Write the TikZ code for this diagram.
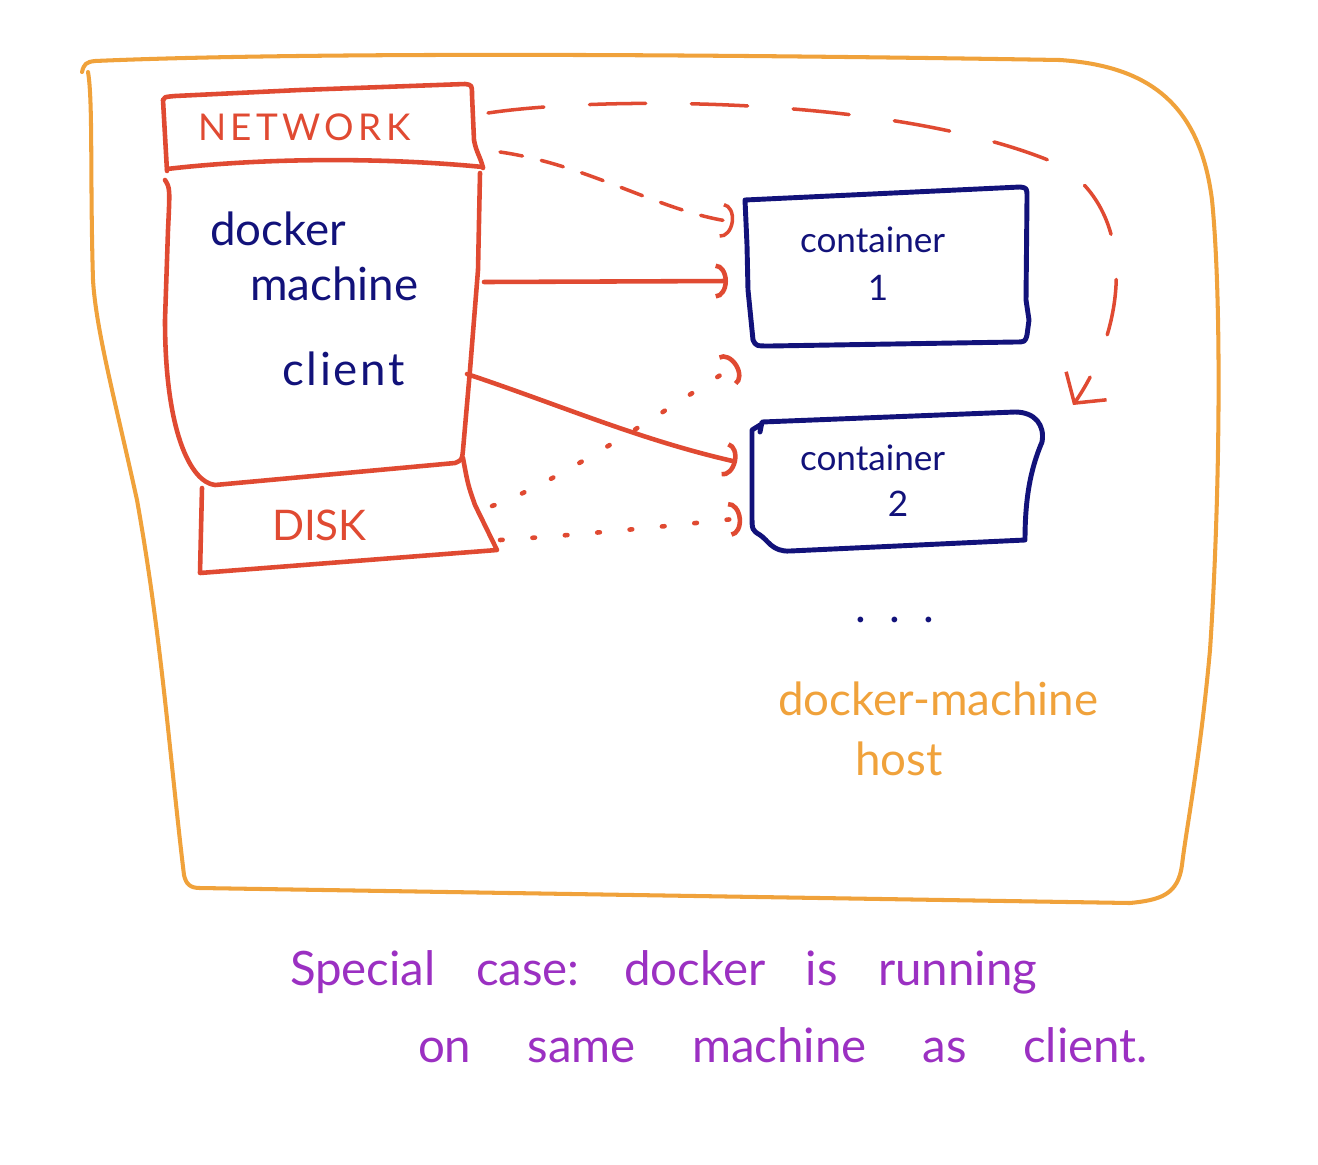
\documentclass[tikz,border=0pt]{standalone}
\usepackage{fontspec}
\setmainfont{Lato}
\usetikzlibrary{arrows.meta}
\definecolor{hostc}{HTML}{F0A23B}
\definecolor{redc}{HTML}{E04A32}
\definecolor{navyc}{HTML}{12127A}
\definecolor{purc}{HTML}{9B30C2}
\begin{document}
\begin{tikzpicture}[x=0.02cm,y=-0.02cm,
  hostline/.style={draw=hostc, line width=2.3pt, line cap=round, line join=round},
  redline/.style={draw=redc, line width=2.6pt, line cap=round, line join=round},
  navyline/.style={draw=navyc, line width=2.8pt, line cap=round, line join=round},
  arctip/.style={-{Arc Barb[length=7pt,width=20pt]}},
  vtip/.style={-{Straight Barb[length=12pt,width=28pt]}},
  longdash/.style={redline, line width=2pt, dash pattern=on 32pt off 26pt},
  shortdash/.style={redline, line width=2pt, dash pattern=on 13pt off 11pt},
  dotline/.style={redline, line width=2.6pt, dash pattern=on 1.5pt off 17pt},
  redtxt/.style={text=redc, font=\fontsize{21}{24}\selectfont},
  navytxt/.style={text=navyc, font=\fontsize{26}{29}\selectfont},
  conttxt/.style={text=navyc, font=\fontsize{20}{23}\selectfont},
  hosttxt/.style={text=hostc, font=\fontsize{26}{29}\selectfont},
  purtxt/.style={text=purc, font=\fontsize{27}{30}\selectfont},
  every node/.style={inner sep=0pt, outer sep=0pt}]
\path[use as bounding box] (0,0) rectangle (1318,1164);

% docker-machine host outline
\draw[hostline] (82,72) .. controls (84,64) and (86,62) .. (95,61)
  .. controls (300,52) and (700,54) .. (1060,60)
  .. controls (1150,66) and (1200,105) .. (1212,200)
  .. controls (1222,300) and (1220,500) .. (1210,650)
  .. controls (1200,760) and (1186,830) .. (1182,865)
  .. controls (1178,895) and (1160,900) .. (1130,903)
  -- (200,888)
  .. controls (190,888) and (186,884) .. (184,875)
  .. controls (170,760) and (162,640) .. (137,500)
  .. controls (115,400) and (96,330) .. (93,280)
  .. controls (90,180) and (93,100) .. (88,72);

% client machine: NETWORK box
\draw[redline] (163,100) .. controls (164,97) .. (175,96) -- (300,90) -- (465,84)
  .. controls (472,85) .. (472,95) -- (474,140)
  .. controls (476,152) and (481,158) .. (483,168);
\draw[redline] (167,169) .. controls (260,158) and (380,157) .. (483,167);
\draw[redline] (163,100) -- (167,171);
% body
\draw[redline] (165,180) .. controls (170,188) .. (168,230) -- (165,320)
  .. controls (165,430) and (190,482) .. (215,485) -- (455,463)
  .. controls (462,460) .. (463,450) -- (470,370) -- (478,270) -- (480,173);
% DISK box
\draw[redline] (202,488) -- (200,573) -- (497,550) -- (475,505)
  .. controls (468,485) .. (463,458);

% containers
\draw[navyline] (745,200) -- (1020,187) .. controls (1027,188) .. (1027,198)
  -- (1026,300) -- (1029,320) -- (1027,335) .. controls (1025,342) .. (1015,342)
  -- (770,346) .. controls (756,346) .. (753,340) -- (748,290) -- (747,245) -- cycle;
\draw[navyline] (760,432) -- (762,422) -- (1015,412)
  .. controls (1035,412) and (1045,425) .. (1042,442)
  .. controls (1030,470) and (1025,500) .. (1025,540)
  -- (790,551) .. controls (772,552) and (768,540) .. (760,535)
  .. controls (752,530) .. (752,515) -- (752,430) -- (760,425);

% texts
\node[redtxt, anchor=base west] (network) at (198,140) {\addfontfeature{LetterSpace=12}NETWORK};
\node[navytxt, anchor=base west] (docker) at (210,245) {docker};
\node[navytxt, anchor=base west] (machine) at (250,300) {machine};
\node[navytxt, anchor=base west] (client) at (282,385) {\addfontfeature{LetterSpace=6}client};
\node[redtxt, font=\fontsize{24}{26}\selectfont, anchor=base west] (disk) at (272,540) {DISK};
\node[conttxt, anchor=base west] (cont1) at (800,252) {container};
\node[conttxt, anchor=base] (one) at (878,300) {1};
\node[conttxt, anchor=base west] (cont2) at (800,470) {container};
\node[conttxt, anchor=base] (two) at (898,516) {2};
\node[navytxt, anchor=base] (dots) at (895,622) {.\,\,\,.\,\,\,.};
\node[hosttxt, anchor=base west] (hostlbl) at (778,715) {docker-machine};
\node[hosttxt, anchor=base west] (hostlbl2) at (855,775) {host};
\node[purtxt, anchor=base west] (note1) at (290,985) {\spaceskip=23pt Special case: docker is running};
\node[purtxt, anchor=base west] (note2) at (418,1062) {\spaceskip=32pt on same machine as client.};

% connector end points
\coordinate (netA) at (488,113);
\coordinate (netB) at (500,152);
\coordinate (cliA) at (484,282);
\coordinate (cliB) at (467,374);
\coordinate (diskA) at (492,506);
\coordinate (diskB) at (500,540);
\coordinate (c1a) at (728,281);
\coordinate (c1b) at (734,222);
\coordinate (c1c) at (738,364);
\coordinate (c2a) at (737,462);
\coordinate (c2b) at (742,518);
\coordinate (c2c) at (1073,405);

% connectors
\draw[redline, arctip] (cliA) -- (c1a);
\draw[redline, arctip] (cliB) .. controls (560,405) and (640,440) .. (c2a);
\draw[shortdash, arctip] (netB) .. controls (590,165) and (660,212) .. (c1b);
\draw[longdash, vtip] (netA) .. controls (600,96) and (900,95) .. (1060,165)
  .. controls (1140,215) and (1125,330) .. (c2c);
\draw[dotline, arctip] (diskA) .. controls (560,482) and (680,400) .. (c1c);
\draw[dotline, arctip] (diskB) .. controls (580,535) and (680,525) .. (c2b);
\end{tikzpicture}
\end{document}
